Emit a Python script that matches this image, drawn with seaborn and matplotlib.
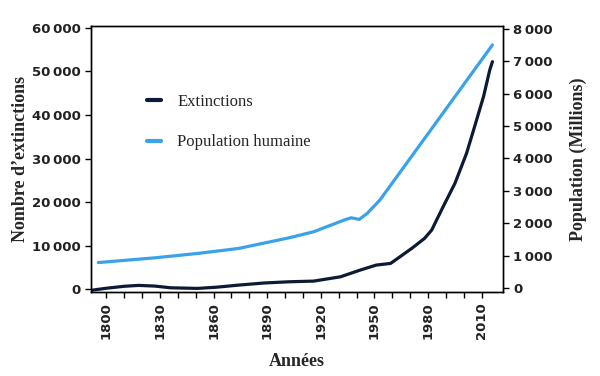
import numpy as np
import pandas as pd
import matplotlib
matplotlib.use("Agg")
import matplotlib.pyplot as plt
import seaborn as sns
from matplotlib.ticker import FuncFormatter, MultipleLocator

# values
ext_years = [1792, 1800, 1810, 1818, 1827, 1836, 1851, 1862, 1874, 1888, 1902, 1916,
             1931, 1942, 1951, 1959, 1964, 1971, 1978, 1982, 1988.4, 1995, 2001.5,
             2006, 2011, 2014.5, 2016]
extinctions = [-250, 200, 650, 850, 700, 300, 160, 450, 920, 1400, 1680, 1840,
               2830, 4370, 5520, 5900, 7350, 9400, 11650, 13560, 18920, 24280, 31180,
               37300, 44210, 50340, 52250]

pop_years = [1795.5, 1827, 1851, 1874, 1883, 1902, 1916, 1934, 1937, 1941.5, 1946, 1953, 2016]
population = [790, 935, 1070, 1225, 1330, 1550, 1740, 2120, 2170, 2120, 2310, 2715, 7500]

ext_df = pd.DataFrame({"annee": ext_years, "valeur": extinctions})
pop_df = pd.DataFrame({"annee": pop_years, "valeur": population})

navy = "#0c1a35"
blue = "#3aa2ea"

sns.set_style("ticks")
serif = ["Liberation Serif", "DejaVu Serif"]

fig = plt.figure(figsize=(6, 3.76), dpi=100)
ax = fig.add_axes([0.152, 0.223, 0.686, 0.708])
ax2 = ax.twinx()

sns.lineplot(data=ext_df, x="annee", y="valeur", ax=ax, color=navy, lw=2.3,
             label="Extinctions", legend=False)
sns.lineplot(data=pop_df, x="annee", y="valeur", ax=ax2, color=blue, lw=2.3,
             label="Population humaine", legend=False)

ax.set_xlim(1791.5, 2021.8)
ax.set_ylim(-700, 60460)
ax2.set_ylim(-123, 8086)

fmt = FuncFormatter(lambda v, p: f"{int(v):,}".replace(",", "\u2009"))
ax.yaxis.set_major_locator(MultipleLocator(10000))
ax.yaxis.set_major_formatter(fmt)
ax2.yaxis.set_major_locator(MultipleLocator(1000))
ax2.yaxis.set_major_formatter(fmt)

ax.set_xticks(np.arange(1800, 2020, 10))
ax.set_xticklabels([str(y) if (y - 1800) % 30 == 0 else "" for y in range(1800, 2020, 10)],
                   rotation=90)

for a in (ax, ax2):
    for s in a.spines.values():
        s.set_linewidth(1.0)
        s.set_color("black")
    a.tick_params(length=4, width=1, labelsize=9.5, colors="black")
    for lab in a.get_yticklabels() + a.get_xticklabels():
        lab.set_fontweight("bold")
        lab.set_color("#222222")

ax.set_xlabel("Années", family=serif, fontsize=13, fontweight="bold", labelpad=10)
ax.set_ylabel("Nombre d\u2019extinctions", family=serif, fontsize=13, fontweight="bold", labelpad=2)
ax2.set_ylabel("Population (Millions)", family=serif, fontsize=13, fontweight="bold", labelpad=12)

h1, l1 = ax.get_legend_handles_labels()
h2, l2 = ax2.get_legend_handles_labels()
leg = ax.legend(h1 + h2, l1 + l2, loc="upper left", bbox_to_anchor=(0.1, 0.8), frameon=False,
                handlelength=0.8, handletextpad=1.0, labelspacing=1.45,
                prop={"family": serif, "size": 12})
for line in leg.get_lines():
    line.set_linewidth(3)

fig.savefig("out.png", dpi=100)
